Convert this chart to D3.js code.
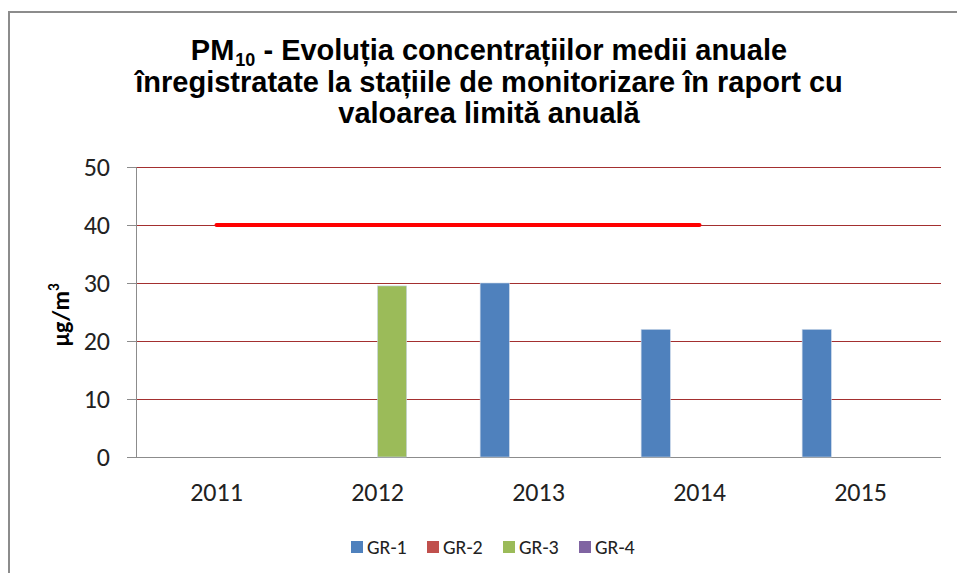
<!DOCTYPE html>
<html>
<head>
<meta charset="utf-8">
<script src="https://cdn.jsdelivr.net/npm/d3@7"></script>
<style>
  body { margin: 0; background: #fff; }
</style>
</head>
<body>
<div id="chart"></div>
<script>
// data
var years = ["2011", "2012", "2013", "2014", "2015"];
var seriesNames = ["GR-1", "GR-2", "GR-3", "GR-4"];
var seriesColors = ["#4f81bd", "#c0504d", "#9bbb59", "#8064a2"];
var gr1 = [null, null, 30, 22, 22];
var gr2 = [null, null, null, null, null];
var gr3 = [null, 29.5, null, null, null];
var gr4 = [null, null, null, null, null];
var limitYears = ["2011", "2012", "2013", "2014"];
var limitValues = [40, 40, 40, 40];
var yTicks = [0, 10, 20, 30, 40, 50];

var allSeries = [gr1, gr2, gr3, gr4];

var W = 957, H = 573;
var margin = {top: 167, right: 16, bottom: 116, left: 136},
    width = 941 - margin.left,
    height = 457 - margin.top;

var svgRoot = d3.select("#chart")
  .append("svg")
    .attr("width", W)
    .attr("height", H);

// outer frame (chart area is cropped on right/bottom)
svgRoot.append("rect")
  .attr("x", 9).attr("y", 12)
  .attr("width", 1000).attr("height", 700)
  .attr("fill", "none")
  .attr("stroke", "#8c8c8c")
  .attr("stroke-width", 2);

// title
var title = svgRoot.append("text")
  .attr("text-anchor", "middle")
  .attr("font-family", "'Liberation Sans Narrow', 'Arial Narrow', 'Liberation Sans', sans-serif")
  .attr("font-weight", "bold")
  .attr("font-size", 29)
  .attr("fill", "#000");
var l1 = title.append("tspan").attr("x", 489).attr("y", 60);
l1.append("tspan").text("PM");
l1.append("tspan").attr("font-size", 18).attr("dx", 1).attr("dy", 6).text("10");
l1.append("tspan").attr("dy", -6).text(" - Evoluția concentrațiilor medii anuale");
title.append("tspan").attr("x", 489).attr("y", 92)
  .text("înregistratate la stațiile de monitorizare în raport cu");
title.append("tspan").attr("x", 489).attr("y", 123)
  .text("valoarea limită anuală");

var svg = svgRoot.append("g")
  .attr("transform", "translate(" + margin.left + "," + margin.top + ")");

// scales
var x = d3.scaleBand()
  .domain(years)
  .range([0, width]);

var groupW = x.bandwidth() * 0.725;
var xs = d3.scaleBand()
  .domain(seriesNames)
  .range([0, groupW]);

var y = d3.scaleLinear()
  .domain([0, 50])
  .range([height, 0]);

// gridlines
svg.append("g")
  .selectAll("line")
  .data(yTicks.filter(function(d) { return d > 0; }))
  .enter().append("line")
    .attr("x1", -9).attr("x2", width)
    .attr("y1", function(d) { return y(d) + 0.5; })
    .attr("y2", function(d) { return y(d) + 0.5; })
    .attr("stroke", "#a32f2f")
    .attr("stroke-width", 1.2);

// y axis
var yAxis = svg.append("g")
  .call(d3.axisLeft(y).tickValues(yTicks).tickSize(9).tickPadding(17));
yAxis.select(".domain").attr("stroke", "#8c8c8c");
yAxis.selectAll(".tick line").attr("stroke", "#8c8c8c");
yAxis.selectAll("text")
  .attr("font-family", "Carlito, Lato, sans-serif")
  .attr("font-size", 26)
  .attr("fill", "#222");

// x axis
var xAxis = svg.append("g")
  .attr("transform", "translate(0," + height + ")")
  .call(d3.axisBottom(x).tickSize(0).tickPadding(26));
xAxis.select(".domain").attr("stroke", "#8c8c8c").attr("d", "M-9,0.5H" + width);
xAxis.selectAll("text")
  .attr("font-family", "Carlito, Lato, sans-serif")
  .attr("font-size", 26)
  .attr("fill", "#222");

// bars
seriesNames.forEach(function(name, i) {
  var vals = allSeries[i];
  svg.append("g")
    .selectAll("rect")
    .data(years.map(function(yr, j) { return {year: yr, value: vals[j]}; })
      .filter(function(d) { return d.value != null; }))
    .enter().append("rect")
      .attr("x", function(d) { return x(d.year) + (x.bandwidth() - groupW) / 2 + xs(name); })
      .attr("y", function(d) { return y(d.value); })
      .attr("width", xs.bandwidth())
      .attr("height", function(d) { return height - y(d.value); })
      .attr("fill", seriesColors[i])
      .attr("stroke", "#c9d6e8")
      .attr("stroke-width", 0.6);
});

// limit line
svg.append("path")
  .datum(limitYears.map(function(yr, j) { return {year: yr, value: limitValues[j]}; }))
  .attr("fill", "none")
  .attr("stroke", "#ff0000")
  .attr("stroke-width", 4)
  .attr("stroke-linecap", "round")
  .attr("d", d3.line()
    .x(function(d) { return x(d.year) + x.bandwidth() / 2; })
    .y(function(d) { return y(d.value); }));

// y label
svgRoot.append("text")
  .attr("transform", "translate(69,315) rotate(-90)")
  .attr("text-anchor", "middle")
  .attr("font-family", "Carlito, Lato, sans-serif")
  .attr("font-weight", "bold")
  .attr("font-size", 24)
  .attr("fill", "#000")
  .html("µg/m<tspan font-size='15' dy='-10'>3</tspan>");

// legend
var legend = svgRoot.append("g")
  .selectAll("g")
  .data(seriesNames)
  .enter().append("g")
    .attr("transform", function(d, i) { return "translate(" + (351 + i * 76) + ",541)"; });
legend.append("rect")
  .attr("width", 12).attr("height", 12)
  .attr("fill", function(d, i) { return seriesColors[i]; });
legend.append("text")
  .attr("x", 16).attr("y", 12.5)
  .attr("font-family", "Carlito, Lato, sans-serif")
  .attr("font-size", 20)
  .attr("fill", "#222")
  .text(function(d) { return d; });
</script>
</body>
</html>
